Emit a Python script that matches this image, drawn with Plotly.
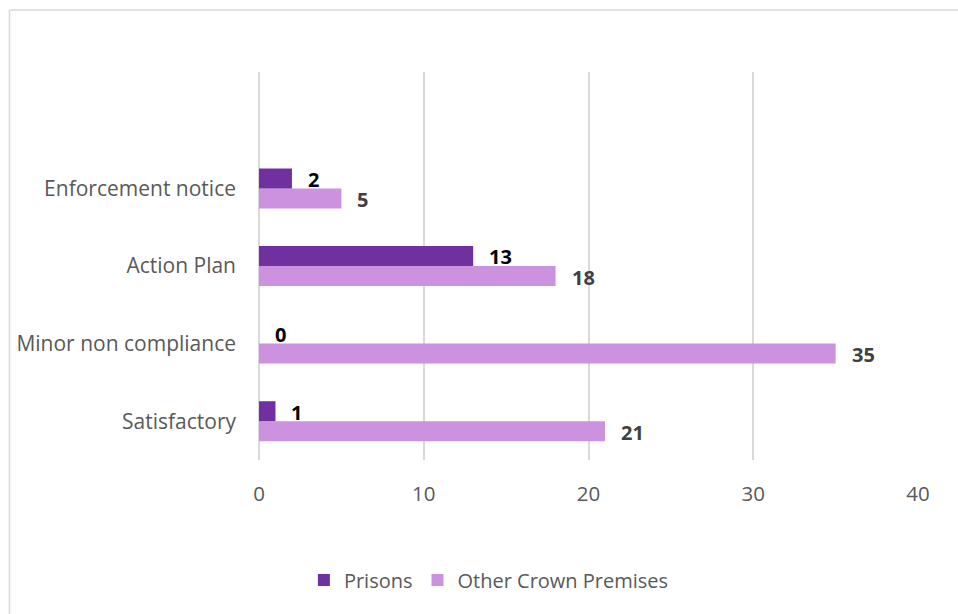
import plotly.graph_objects as go

categories = ["Satisfactory", "Minor non compliance", "Action Plan", "Enforcement notice"]
prisons = [1, 0, 13, 2]
other_crown = [21, 35, 18, 5]
x_ticks = [0, 10, 20, 30, 40]

W, H = 958, 614
L, R, T, B = 259, W - 918, 72, H - 460
pw, ph = W - L - R, H - T - B

def px_x(x):
    return (x - L) / pw

def px_y(y):
    return (H - B - y) / ph

ypos = list(range(len(categories)))
font = "'Open Sans', sans-serif"
bar_off = 0.13  # vertical offset of each series' bar centre from the category

fig = go.Figure()
fig.add_trace(go.Bar(
    y=ypos, x=other_crown, orientation="h", name="Other Crown Premises",
    marker=dict(color="#CC92E0", line=dict(width=0)),
))
fig.add_trace(go.Bar(
    y=ypos, x=prisons, orientation="h", name="Prisons",
    marker=dict(color="#7030A0", line=dict(width=0)),
))

# value labels just beyond the end of each bar
for yv, v in zip(ypos, prisons):
    fig.add_annotation(x=v, y=yv + bar_off, text=f"<b>{v}</b>", showarrow=False,
                       xanchor="left", yanchor="middle", xshift=14, yshift=-1,
                       font=dict(family=font, size=20, color="#000000"))
for yv, v in zip(ypos, other_crown):
    fig.add_annotation(x=v, y=yv - bar_off, text=f"<b>{v}</b>", showarrow=False,
                       xanchor="left", yanchor="middle", xshift=14, yshift=-1,
                       font=dict(family=font, size=20, color="#404040"))

fig.update_layout(
    width=W, height=H,
    margin=dict(l=L, r=R, t=T, b=B, pad=0),
    paper_bgcolor="white", plot_bgcolor="white",
    barmode="group", bargap=0.485, bargroupgap=0,
    font=dict(family=font, color="#595959", size=20),
    showlegend=True,
    legend=dict(orientation="h", x=(W / 2 - L) / pw + 0.015,
                xanchor="center", y=px_y(580), yanchor="middle",
                traceorder="reversed", font=dict(size=20, color="#595959"),
                itemwidth=30),
    xaxis=dict(range=[0, 40], tickvals=x_ticks, showgrid=True, gridcolor="#D9D9D9",
               gridwidth=1.5, zeroline=True, zerolinecolor="#D9D9D9", zerolinewidth=1.5,
               showline=False, ticks="",
               tickfont=dict(size=20.5, color="#595959"), ticklabelstandoff=19),
    yaxis=dict(range=[-0.5, 4.5], tickvals=ypos, ticktext=categories,
               showgrid=False, zeroline=False, showline=False, ticks="",
               tickfont=dict(size=21, color="#595959"), ticklabelstandoff=22),
)

# chart frame (left and top edges visible)
frame = dict(color="#D9D9D9", width=1.5)
fig.add_shape(type="line", xref="paper", yref="paper",
              x0=px_x(9.5), x1=px_x(W + 5), y0=px_y(10), y1=px_y(10), line=frame)
fig.add_shape(type="line", xref="paper", yref="paper",
              x0=px_x(9.5), x1=px_x(9.5), y0=px_y(10), y1=px_y(H + 5), line=frame)

fig.write_html("out.html")
